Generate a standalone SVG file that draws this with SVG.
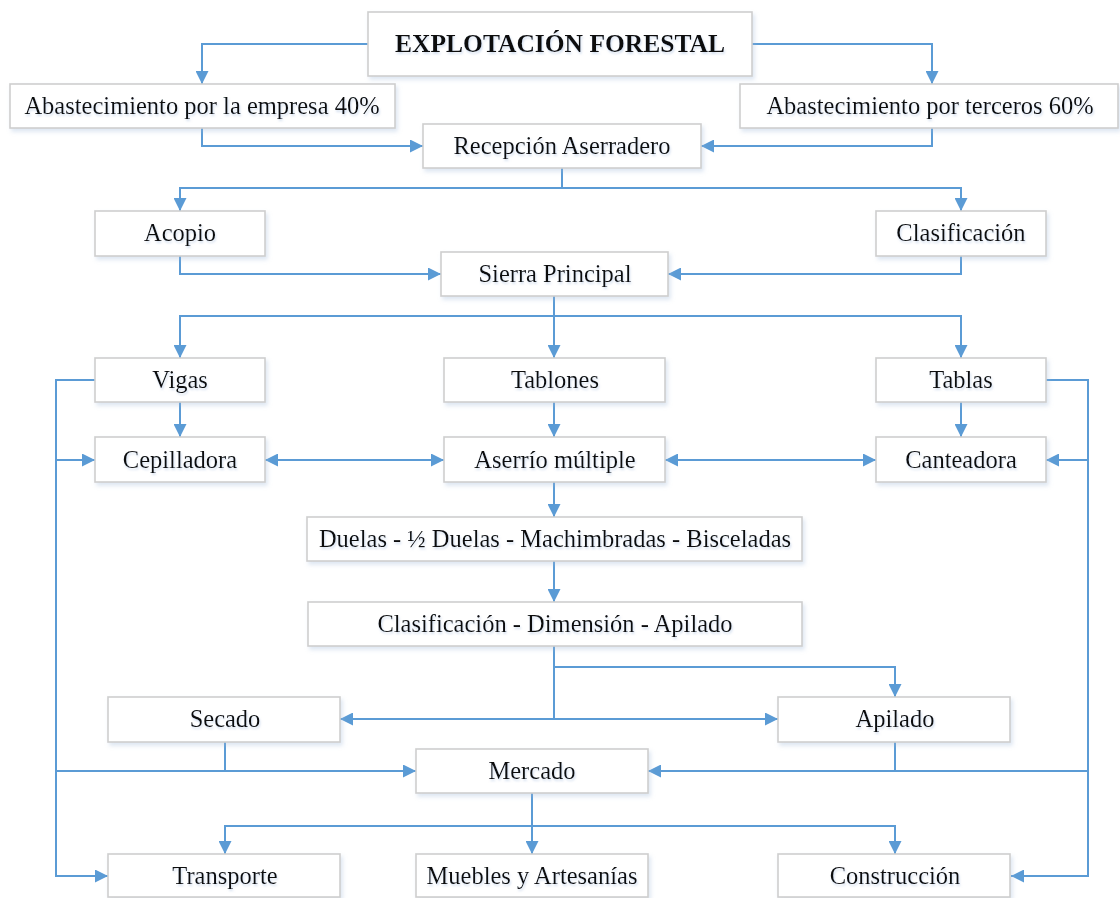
<svg xmlns="http://www.w3.org/2000/svg" width="1120" height="898" viewBox="0 0 1120 898">
<defs>
<style>
.box{fill:#fff;stroke:#cfcfcf;stroke-width:1.6;filter:url(#sh)}
.t{font-family:"Liberation Serif","Times New Roman",serif;font-size:24.5px;fill:#111;text-anchor:middle;filter:url(#ts)}
.b{font-weight:bold;font-size:25.5px}
.c{fill:none;stroke:#5b9bd5;stroke-width:2}
.a{marker-end:url(#ah)}
.d{marker-start:url(#ah);marker-end:url(#ah)}
</style>
<filter id="sh" x="-10%" y="-20%" width="130%" height="160%">
<feDropShadow dx="2" dy="3" stdDeviation="2" flood-color="#9db8d9" flood-opacity="0.35"/>
</filter>
<filter id="ts" x="-5%" y="-30%" width="110%" height="170%">
<feDropShadow dx="1" dy="2" stdDeviation="1.2" flood-color="#a9bfe0" flood-opacity="0.5"/>
</filter>
<marker id="ah" markerUnits="userSpaceOnUse" markerWidth="14" markerHeight="13" refX="13" refY="6.5" orient="auto-start-reverse">
<path d="M0,0 L13,6.5 L0,13 z" fill="#5b9bd5"/>
</marker>
</defs>

<g id="connectors">
<path class="c a" d="M368,44 H202 V84"/>
<path class="c a" d="M752,44 H932 V84"/>
<path class="c a" d="M202,128 V146 H423"/>
<path class="c a" d="M932,128 V146 H701"/>
<path class="c a" d="M562,168 V188 H180 V211"/>
<path class="c a" d="M562,188 H961 V211"/>
<path class="c a" d="M180,256 V274 H441"/>
<path class="c a" d="M961,256 V274 H668"/>
<path class="c a" d="M554,296 V316 H180 V358"/>
<path class="c a" d="M554,296 V358"/>
<path class="c a" d="M554,316 H961 V358"/>
<path class="c a" d="M180,402 V437"/>
<path class="c a" d="M554,402 V437"/>
<path class="c a" d="M961,402 V437"/>
<path class="c d" d="M265,460 H444"/>
<path class="c d" d="M665,460 H876"/>
<path class="c a" d="M554,482 V517"/>
<path class="c a" d="M554,561 V602"/>
<path class="c a" d="M554,646 V719 H340"/>
<path class="c a" d="M554,719 H778"/>
<path class="c a" d="M554,667 H895 V697"/>
<path class="c a" d="M95,380 H56 V876 H108"/>
<path class="c a" d="M56,460 H95"/>
<path class="c a" d="M56,771 H416"/>
<path class="c" d="M225,742 V771"/>
<path class="c a" d="M1046,380 H1088 V876 H1011"/>
<path class="c a" d="M1088,460 H1046"/>
<path class="c a" d="M1088,771 H648"/>
<path class="c" d="M895,742 V771"/>
<path class="c a" d="M532,793 V854"/>
<path class="c a" d="M532,826 H225 V854"/>
<path class="c a" d="M532,826 H895 V854"/>
</g>

<g id="n-explotacion"><rect class="box" x="368" y="12" width="384" height="64"/><text class="t b" x="560" y="52">EXPLOTACIÓN FORESTAL</text></g>
<g id="n-empresa"><rect class="box" x="10" y="84" width="385" height="44"/><text class="t" x="202" y="114">Abastecimiento por la empresa 40%</text></g>
<g id="n-terceros"><rect class="box" x="740" y="84" width="378" height="44"/><text class="t" x="930" y="114">Abastecimiento por terceros 60%</text></g>
<g id="n-recepcion"><rect class="box" x="423" y="124" width="278" height="44"/><text class="t" x="562" y="154">Recepción Aserradero</text></g>
<g id="n-acopio"><rect class="box" x="95" y="211" width="170" height="45"/><text class="t" x="180" y="241">Acopio</text></g>
<g id="n-clasificacion"><rect class="box" x="876" y="211" width="170" height="45"/><text class="t" x="961" y="241">Clasificación</text></g>
<g id="n-sierra"><rect class="box" x="441" y="252" width="227" height="44"/><text class="t" x="555" y="282">Sierra Principal</text></g>
<g id="n-vigas"><rect class="box" x="95" y="358" width="170" height="44"/><text class="t" x="180" y="388">Vigas</text></g>
<g id="n-tablones"><rect class="box" x="444" y="358" width="221" height="44"/><text class="t" x="555" y="388">Tablones</text></g>
<g id="n-tablas"><rect class="box" x="876" y="358" width="170" height="44"/><text class="t" x="961" y="388">Tablas</text></g>
<g id="n-cepilladora"><rect class="box" x="95" y="437" width="170" height="45"/><text class="t" x="180" y="468">Cepilladora</text></g>
<g id="n-aserrio"><rect class="box" x="444" y="437" width="221" height="45"/><text class="t" x="555" y="468">Aserrío múltiple</text></g>
<g id="n-canteadora"><rect class="box" x="876" y="437" width="170" height="45"/><text class="t" x="961" y="468">Canteadora</text></g>
<g id="n-duelas"><rect class="box" x="307" y="517" width="495" height="44"/><text class="t" x="555" y="547">Duelas - ½ Duelas - Machimbradas - Bisceladas</text></g>
<g id="n-clasif-dim"><rect class="box" x="308" y="602" width="494" height="44"/><text class="t" x="555" y="632">Clasificación - Dimensión - Apilado</text></g>
<g id="n-secado"><rect class="box" x="108" y="697" width="232" height="45"/><text class="t" x="225" y="727">Secado</text></g>
<g id="n-apilado"><rect class="box" x="778" y="697" width="232" height="45"/><text class="t" x="895" y="727">Apilado</text></g>
<g id="n-mercado"><rect class="box" x="416" y="749" width="232" height="44"/><text class="t" x="532" y="779">Mercado</text></g>
<g id="n-transporte"><rect class="box" x="108" y="854" width="232" height="43"/><text class="t" x="225" y="884">Transporte</text></g>
<g id="n-muebles"><rect class="box" x="416" y="854" width="232" height="43"/><text class="t" x="532" y="884">Muebles y Artesanías</text></g>
<g id="n-construccion"><rect class="box" x="778" y="854" width="232" height="43"/><text class="t" x="895" y="884">Construcción</text></g>
</svg>
